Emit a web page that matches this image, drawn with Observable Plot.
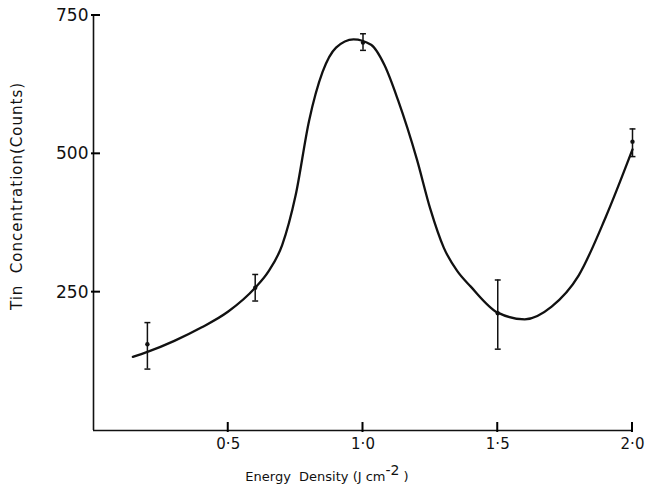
<!DOCTYPE html>
<html>
<head>
<meta charset="utf-8">
<script src="https://cdn.jsdelivr.net/npm/d3@7"></script>
<script src="https://cdn.jsdelivr.net/npm/@observablehq/plot@0.6"></script>
<style>
  html, body { margin: 0; padding: 0; background: #fff; }
  #chart svg { display: block; }
</style>
</head>
<body>
<div id="chart"></div>
<script>
// Measured points (energy density, tin counts) with error-bar limits
const pointX   = [0.2, 0.6, 1.0, 1.5, 2.0];
const pointY   = [156, 258, 701, 212, 522];
const errLow   = [111, 234, 687, 147, 495];
const errHigh  = [195, 282, 717, 272, 545];

// Hand-drawn smooth curve
const curveX = [0.146, 0.2, 0.3, 0.4, 0.5, 0.6, 0.65, 0.7, 0.75, 0.8, 0.85, 0.9, 0.965, 1.03, 1.08, 1.13, 1.2, 1.25, 1.3, 1.35, 1.4, 1.5, 1.6, 1.7, 1.8, 1.9, 2.0];
const curveY = [133,   142, 162, 186, 215, 258, 288,  335, 425,  560, 648,  692, 707,   697,  660,  597,  490, 400,  330, 288,  260, 213, 201, 224, 280, 385, 508];

const xTicks = [0.5, 1.0, 1.5, 2.0];
const yTicks = [250, 500, 750];

const points = pointX.map((x, i) => ({x, y: pointY[i], lo: errLow[i], hi: errHigh[i]}));
const curve = curveX.map((x, i) => ({x, y: curveY[i]}));
const capHalf = 0.011;

const font = "'DejaVu Sans', sans-serif";

const chart = Plot.plot({
  width: 645,
  height: 490,
  marginLeft: 93,
  marginRight: 13,
  marginTop: 15,
  marginBottom: 60,
  style: {fontFamily: font, color: "#111", background: "#fff"},
  x: {domain: [0, 2]},
  y: {domain: [0, 750]},
  marks: [
    Plot.ruleX([0], {stroke: "#111", strokeWidth: 1.6}),
    Plot.ruleY([0], {stroke: "#111", strokeWidth: 1.6}),
    Plot.axisX({ticks: xTicks, tickSize: 0, tickPadding: 8, tickFormat: d => d.toFixed(1).replace(".", "·"), label: null, fontSize: 15}),
    Plot.axisY({ticks: yTicks, tickSize: 0, tickPadding: 5, label: null, fontSize: 17}),
    Plot.line(curve, {x: "x", y: "y", curve: "monotone-x", stroke: "#111", strokeWidth: 2.3}),
    Plot.ruleX(points, {x: "x", y1: "lo", y2: "hi", stroke: "#111", strokeWidth: 1.5}),
    Plot.link(points, {x1: d => d.x - capHalf, x2: d => d.x + capHalf, y1: "hi", y2: "hi", stroke: "#111", strokeWidth: 1.5}),
    Plot.link(points, {x1: d => d.x - capHalf, x2: d => d.x + capHalf, y1: "lo", y2: "lo", stroke: "#111", strokeWidth: 1.5}),
    Plot.dot(points, {x: "x", y: "y", r: 2.2, fill: "#111", stroke: null})
  ]
});

const svg = d3.select(chart);
const sx = chart.scale("x"), sy = chart.scale("y");
const x0 = sx.apply(0), y0 = sy.apply(0);

// tick marks (inward, crossing the axis slightly), placed through the plot's own scales
const tg = svg.append("g").attr("stroke", "#000").attr("stroke-width", 2);
xTicks.forEach(v => {
  const px = sx.apply(v);
  tg.append("line").attr("x1", px).attr("x2", px).attr("y1", y0 + 2).attr("y2", y0 - 8);
});
yTicks.forEach(v => {
  const py = sy.apply(v);
  tg.append("line").attr("x1", x0 - 2).attr("x2", x0 + 7).attr("y1", py).attr("y2", py);
});

// x-axis title with superscript
const xt = svg.append("text")
  .attr("x", 327).attr("y", 481)
  .attr("text-anchor", "middle")
  .attr("font-family", font).attr("font-size", 13)
  .attr("fill", "#111");
xt.append("tspan").text("Energy  Density (J cm");
xt.append("tspan").attr("dy", -6).attr("font-size", 14).text("-2");
xt.append("tspan").attr("dy", 6).text(" )");
// y-axis title
svg.append("text")
  .attr("transform", "translate(22,196) rotate(-90)")
  .attr("text-anchor", "middle")
  .attr("font-family", font).attr("font-size", 15)
  .attr("letter-spacing", 1)
  .attr("fill", "#111")
  .text("Tin  Concentration(Counts)");

document.getElementById("chart").appendChild(chart);
</script>
</body>
</html>
